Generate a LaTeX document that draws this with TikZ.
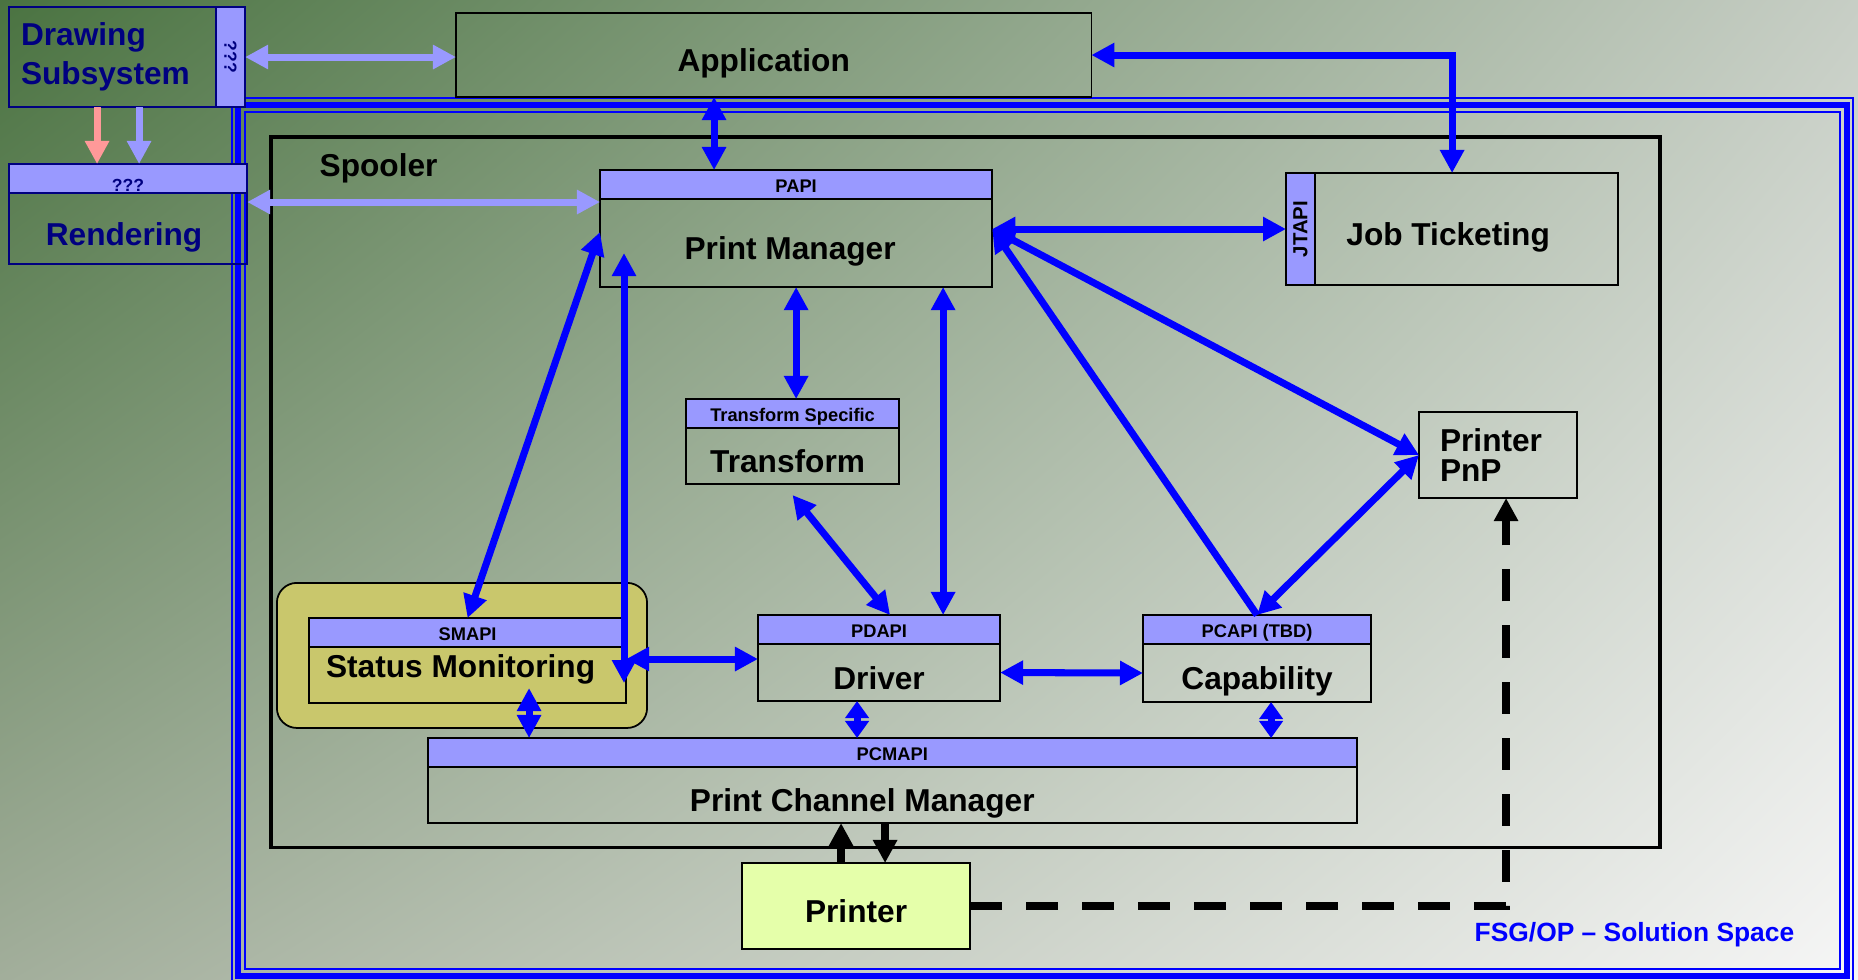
\documentclass[tikz,border=0pt]{standalone}
\usepackage{fontspec}
\usepackage{graphicx}
\setmainfont{Liberation Sans}
\usetikzlibrary{arrows.meta,shadings}

\definecolor{apifill}{HTML}{9999FF}
\definecolor{navyline}{HTML}{000080}
\definecolor{pinkarrow}{HTML}{FF9999}
\definecolor{smyellow}{HTML}{C9C76C}
\definecolor{printerfill}{HTML}{E5FFAA}
\definecolor{bgtl}{HTML}{4A7341}
\definecolor{bgtr}{HTML}{C7CEC5}
\definecolor{bgbl}{HTML}{A2AE9B}
\definecolor{bgbr}{HTML}{F6F6F6}

\newcommand{\lblfont}{\fontsize{9}{10.8}\selectfont\bfseries}
\newcommand{\apifont}{\fontsize{5.2}{6}\selectfont\bfseries}
\newcommand{\jtfont}{\fontsize{5.8}{7}\selectfont\bfseries}
\newcommand{\qfont}{\fontsize{5}{6}\selectfont\bfseries}
\newcommand{\fsgfont}{\fontsize{7.5}{9}\selectfont\bfseries}

\begin{document}
\begin{tikzpicture}[x=0.01cm,y=-0.01cm,
    >={Triangle[length=2.3mm,width=2.3mm]},
    box/.style={draw,line width=0.6pt,inner sep=0pt,outer sep=0pt,anchor=north west,font=\lblfont},
    body/.style={box,text height=0.33cm,text depth=0pt},
    api/.style={box,fill=apifill,minimum height=0.29cm,font=\apifont,text height=0.15cm,text depth=0pt},
    navybox/.style={box,draw=navyline,text=navyline},
    bluelink/.style={blue,line width=2pt},
    shortlink/.style={blue,line width=2pt,>={Triangle[length=1.7mm,width=2.3mm]}},
    lavlink/.style={apifill,line width=2pt},
    pinklink/.style={pinkarrow,line width=2pt},
    blacklink/.style={black,line width=2.2pt},
    dashlink/.style={black,line width=2.1pt,dash pattern=on 3.2mm off 2.4mm}]
  \useasboundingbox (0,0) rectangle (1858,979);
  \shade[upper left=bgtl,upper right=bgtr,lower left=bgbl,lower right=bgbr] (0,0) rectangle (1858,979);

  % solution space frame
  \draw[blue,line width=0.7pt] (232,98) rectangle (1853,990);
  \draw[blue,line width=1.5pt] (238,105) rectangle (1847,976);
  \draw[blue,line width=0.7pt] (245,112) rectangle (1840,969);
  \node[anchor=west,inner sep=0pt,text=blue,font=\fsgfont] (fsg) at (1474,935) {FSG/OP – Solution Space};

  % spooler
  \node[box,line width=1pt,minimum width=13.88cm,minimum height=7.10cm] (spool) at (271,137) {};
  \node[anchor=west,inner sep=0pt,font=\lblfont] (spooltxt) at (319,168) {Spooler};

  \node[box,line width=0.4pt,minimum width=6.35cm,minimum height=0.84cm,text height=0.32cm,text depth=0pt] (app) at (456,13) {Application\hspace*{2mm}};

  \node[navybox,minimum width=2.07cm,minimum height=1.00cm,align=left,text width=1.83cm,inner xsep=0.12cm,font=\fontsize{9}{11.1}\selectfont\bfseries] (drw) at (9,7) {Drawing\\Subsystem};
  \node[navybox,fill=apifill,minimum width=0.29cm,minimum height=1.00cm,font=\qfont] (drwapi) at (drw.north east) {\rotatebox{-90}{???}};

  \node[navybox,fill=apifill,minimum width=2.38cm,minimum height=0.29cm,font=\qfont,text height=0.26cm,text depth=0pt] (rndapi) at (9,164) {???};
  \node[navybox,minimum width=2.38cm,minimum height=0.71cm,text height=0.33cm,text depth=0pt] (rnd) at (rndapi.south west) {Rendering\hspace*{0.8mm}};

  \node[api,minimum width=3.92cm] (papi) at (600,170) {PAPI};
  \node[body,minimum width=3.92cm,minimum height=0.88cm] (pm) at (papi.south west) {Print Manager\hspace*{1.2mm}};

  \node[api,minimum width=2.13cm] (tsapi) at (686,399) {Transform Specific};
  \node[body,minimum width=2.13cm,minimum height=0.56cm] (tf) at (tsapi.south west) {Transform\hspace*{1mm}};

  \node[body,minimum width=3.32cm,minimum height=1.12cm] (jt) at (1286,173) {Job Ticketing\hspace*{0.8mm}};
  \node[api,minimum width=0.29cm,minimum height=1.12cm,font=\jtfont,text height=,text depth=] (jtapi) at (jt.north west) {\rotatebox{90}{JTAPI}};

  \node[box,minimum width=1.58cm,minimum height=0.86cm,align=left,text width=1.16cm,inner xsep=0.21cm,font=\fontsize{9}{8.5}\selectfont\bfseries] (pnp) at (1419,412) {Printer\\PnP};

  \node[draw,line width=0.5pt,fill=smyellow,rounded corners=0.2cm,minimum width=3.70cm,minimum height=1.45cm,anchor=north west] (smbg) at (276,582) {};
  \node[api,minimum width=3.17cm] (smapi) at (309,618) {SMAPI};
  \node[box,minimum width=3.17cm,minimum height=0.56cm,text height=0.23cm,text depth=0.19cm] (sm) at (smapi.south west) {Status Monitoring\hspace*{1.4mm}};

  \node[api,minimum width=2.42cm] (pdapi) at (758,615) {PDAPI};
  \node[body,minimum width=2.42cm,minimum height=0.57cm] (drv) at (pdapi.south west) {Driver};

  \node[api,minimum width=2.28cm] (pcapi) at (1143,615) {PCAPI (TBD)};
  \node[body,minimum width=2.28cm,minimum height=0.58cm] (cap) at (pcapi.south west) {Capability};

  \node[api,minimum width=9.28cm] (pcmapi) at (428,738) {PCMAPI};
  \node[body,minimum width=9.28cm,minimum height=0.56cm] (pcm) at (pcmapi.south west) {Print Channel Manager\hspace*{6mm}};

  \node[body,fill=printerfill,minimum width=2.28cm,minimum height=0.86cm] (prn) at (742,863) {Printer};

  % drawing subsystem links
  \draw[lavlink,<->] (drwapi.east) -- (drwapi.east -| app.west);
  \coordinate (pk) at ([xshift=-0.31cm]rndapi.north);
  \draw[pinklink,->] (pk |- drw.south) -- (pk);
  \coordinate (lv) at ([xshift=0.11cm]rndapi.north);
  \draw[lavlink,->] (lv |- drw.south) -- (lv);
  \coordinate (rp) at ([yshift=-0.09cm]rndapi.south east);
  \draw[lavlink,<->] (rp) -- (rp -| pm.west);

  % spooler links
  \coordinate (ap) at ([xshift=1.14cm]papi.north west);
  \draw[bluelink,<->] (ap |- app.south) -- (ap);
  \draw[bluelink,<->] (app.east) -| (jt.north);
  \coordinate (pmr) at (jt.west -| pm.east);
  \draw[bluelink,<->] (pmr) -- (jtapi.west);
  \draw[bluelink,<->] (pmr) -- (pnp.west);
  \draw[bluelink,->] (pcapi.north) -- (pmr);
  \draw[bluelink,<->] (pcapi.north) -- (pnp.west);
  \draw[bluelink,<->] (pm.south) -- (pm.south |- tsapi.north);
  \coordinate (pd) at ([xshift=-0.57cm]pdapi.north east);
  \draw[bluelink,<->] (pd |- pm.south) -- (pd);
  \draw[bluelink,<->] ([yshift=-0.11cm]tf.south) -- ([xshift=1.32cm]pdapi.north west);
  \draw[bluelink,<->] (smapi.north) -- ([yshift=0.11cm]pm.west);
  \coordinate (vt) at ([xshift=0.24cm,yshift=-0.10cm]pm.west);
  \draw[bluelink,<->] (vt) -- ([yshift=0.2cm]vt |- sm.south);
  \coordinate (sd) at ([yshift=-0.12cm]sm.north east);
  \draw[bluelink,<->] (sd) -- (sd -| drv.west);
  \draw[bluelink,<->] (drv.east) -- (cap.west);
  \coordinate (sp) at ([xshift=1.01cm]pcmapi.north west);
  \draw[bluelink,<->] (sp) -- ([yshift=0.15cm]sp |- sm.south);
  \coordinate (dp) at ([xshift=-0.22cm]drv.south);
  \draw[shortlink,<->] (dp) -- (dp |- pcmapi.north);
  \coordinate (cp) at ([xshift=0.14cm]cap.south);
  \draw[shortlink,<->] (cp) -- (cp |- pcmapi.north);

  % printer links
  \coordinate (up) at ([xshift=-0.15cm]prn.north);
  \draw[blacklink,->] (up) -- (up |- pcm.south);
  \coordinate (dn) at ([xshift=0.29cm]prn.north);
  \draw[blacklink,<-] (dn) -- (dn |- pcm.south);
  \draw[dashlink,->] (prn.east) -| ([xshift=0.08cm]pnp.south);
\end{tikzpicture}
\end{document}
